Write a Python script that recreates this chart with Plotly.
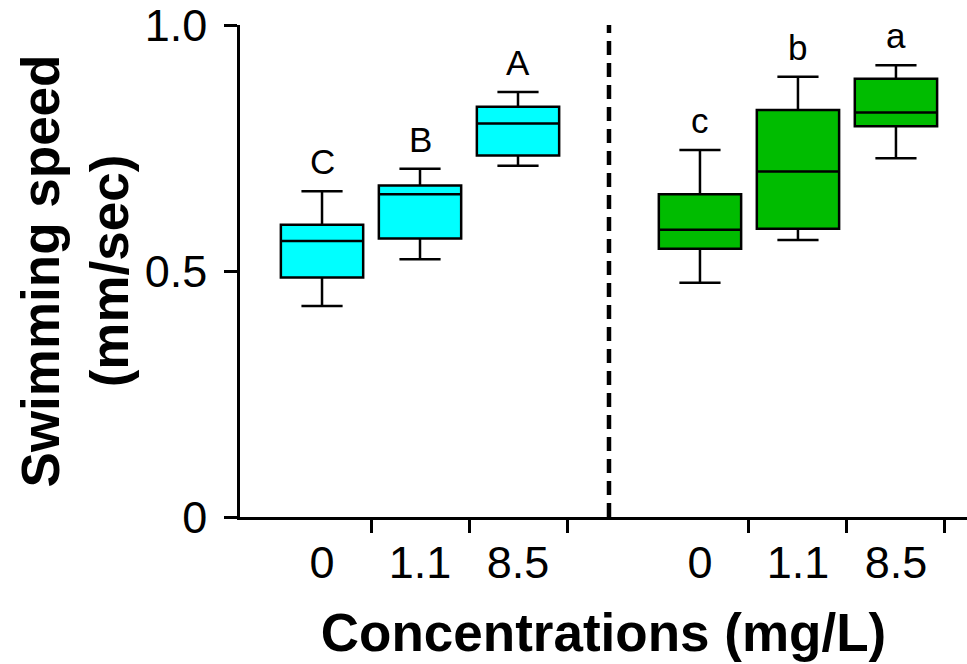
import plotly.graph_objects as go

# ---- data ----
conc_labels = ["0", "1.1", "8.5"]

cyan_low = [0.429, 0.524, 0.714]
cyan_q1 = [0.487, 0.566, 0.735]
cyan_median = [0.561, 0.656, 0.800]
cyan_q3 = [0.594, 0.674, 0.834]
cyan_high = [0.662, 0.708, 0.864]
cyan_letters = ["C", "B", "A"]

green_low = [0.476, 0.563, 0.729]
green_q1 = [0.545, 0.586, 0.794]
green_median = [0.584, 0.702, 0.822]
green_q3 = [0.656, 0.827, 0.891]
green_high = [0.746, 0.895, 0.918]
green_letters = ["c", "b", "a"]

y_tickvals = [0, 0.5, 1.0]
y_ticktext = ["0", "0.5", "1.0"]

# ---- layout helpers ----
FONT = "Liberation Sans, Arial, Helvetica, sans-serif"
group_shift = 3.857
left_pos = [1 + i for i in range(len(conc_labels))]
right_pos = [1 + i + group_shift for i in range(len(conc_labels))]
centers = left_pos + right_pos
boundaries = [c + 0.5 for c in centers]
separator = (left_pos[-1] + 0.5 + right_pos[0] - 0.5) / 2
x_range = [0.163, 7.582]

fig = go.Figure()

for pos, lo, q1, med, q3, hi, col in [
    (left_pos, cyan_low, cyan_q1, cyan_median, cyan_q3, cyan_high, "#00FFFF"),
    (right_pos, green_low, green_q1, green_median, green_q3, green_high, "#00BC00"),
]:
    fig.add_trace(go.Box(
        x=pos, q1=q1, median=med, q3=q3, lowerfence=lo, upperfence=hi,
        width=0.84, whiskerwidth=0.5,
        fillcolor=col, line=dict(color="black", width=2.5),
        boxpoints=False, showlegend=False, hoverinfo="skip",
    ))

# significance letters above the upper whiskers
for x, y, t in zip(centers, cyan_high + green_high, cyan_letters + green_letters):
    fig.add_annotation(x=x, y=y, xref="x", yref="y", text=t, showarrow=False,
                       yanchor="bottom", yshift=8,
                       font=dict(family=FONT, size=35, color="black"))

fig.add_shape(type="line", xref="x", yref="y",
              x0=separator, x1=separator, y0=0, y1=1,
              line=dict(color="black", width=4.5, dash="14px,8px"))

fig.update_layout(
    width=967, height=664,
    margin=dict(l=240, r=0, t=25, b=147),
    plot_bgcolor="white", paper_bgcolor="white",
    font=dict(family=FONT, color="black"),
    xaxis=dict(
        range=x_range, tickvals=centers, ticktext=conc_labels * 2,
        ticks="", ticklabelstandoff=4,
        tickfont=dict(family=FONT, size=45),
        minor=dict(tickvals=boundaries, ticks="outside", ticklen=13,
                   tickwidth=2.5, tickcolor="black", showgrid=False),
        showline=True, linewidth=2.5, linecolor="black",
        showgrid=False, zeroline=False, automargin=False,
        title=dict(text="<b>Concentrations (mg/L)</b>",
                   font=dict(family=FONT, size=53), standoff=28),
    ),
    yaxis=dict(
        range=[0, 1], tickvals=y_tickvals, ticktext=y_ticktext,
        ticks="outside", ticklen=13, tickwidth=2.5, tickcolor="black",
        ticklabelstandoff=8, ticklabeloverflow="allow",
        tickfont=dict(family=FONT, size=45),
        showline=True, linewidth=2.5, linecolor="black",
        showgrid=False, zeroline=False, automargin=False,
        title=dict(text="<b>Swimming speed<br>(mm/sec)</b>",
                   font=dict(family=FONT, size=53), standoff=0),
    ),
)

# remove the default page margin so the figure fills the window exactly
fig.write_html("out.html",
               config={"displayModeBar": False},
               post_script="document.body.style.margin='0px';")
